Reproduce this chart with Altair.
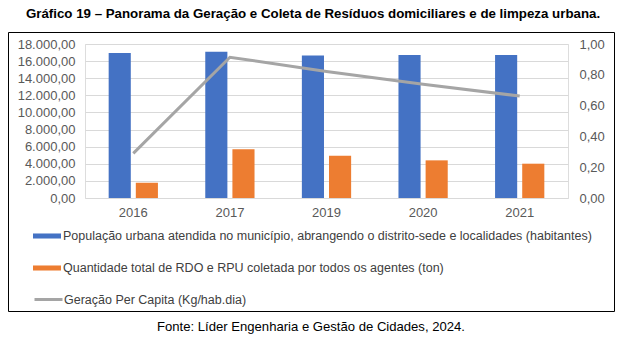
import altair as alt
import pandas as pd

years = ["2016", "2017", "2019", "2020", "2021"]
series_names = [
    "População urbana atendida no município, abrangendo o distrito-sede e localidades (habitantes)",
    "Quantidade total de RDO e RPU coletada por todos os agentes (ton)",
    "Geração Per Capita (Kg/hab.dia)",
]
populacao = [16950, 17100, 16650, 16700, 16700]
quantidade = [1790, 5690, 4950, 4400, 4010]
per_capita = [0.29, 0.914, 0.822, 0.738, 0.662]
left_ticks = [0, 2000, 4000, 6000, 8000, 10000, 12000, 14000, 16000, 18000]
right_ticks = [0, 0.2, 0.4, 0.6, 0.8, 1.0]
title_text = "Gráfico 19 – Panorama da Geração e Coleta de Resíduos domiciliares e de limpeza urbana."
source_text = "Fonte: Líder Engenharia e Gestão de Cidades, 2024."

bars_df = pd.DataFrame({
    "year": years * 2,
    "series": [series_names[0]] * len(years) + [series_names[1]] * len(years),
    "value": populacao + quantidade,
})
line_df = pd.DataFrame({"year": years, "series": [series_names[2]] * len(years), "value": per_capita})

FONT = "Liberation Sans"

x_enc = alt.X(
    "year:N", sort=years, title=None,
    scale=alt.Scale(paddingInner=0.49, paddingOuter=0.245),
    axis=alt.Axis(domain=False, ticks=False, labelAngle=0, labelPadding=8,
                  labelFont=FONT, labelFontSize=13, labelColor="#595959", grid=False),
)

bars = alt.Chart(bars_df).mark_bar().encode(
    x=x_enc,
    xOffset=alt.XOffset("series:N", sort=series_names[:2],
                        scale=alt.Scale(paddingInner=0.185, paddingOuter=0)),
    y=alt.Y("value:Q", title=None,
            scale=alt.Scale(domain=[0, 18000], nice=False),
            axis=alt.Axis(values=left_ticks, format=",.2f", domain=False, ticks=False,
                          labelPadding=10, labelFont=FONT, labelFontSize=13,
                          labelColor="#595959", grid=True, gridColor="#D9D9D9",
                          gridWidth=1, orient="left")),
    color=alt.Color("series:N", sort=series_names[:2],
                    scale=alt.Scale(domain=series_names[:2], range=["#4472C4", "#ED7D31"]),
                    legend=alt.Legend(orient="none", legendX=-52, legendY=178, title=None,
                                      direction="vertical",
                                      symbolType="M-1,-0.18H1V0.18H-1Z", symbolSize=784,
                                      symbolStrokeWidth=0, labelLimit=700, labelFont=FONT,
                                      labelFontSize=12.5, labelColor="#404040",
                                      labelOffset=2, rowPadding=11, padding=0)),
)

line = alt.Chart(line_df).mark_line(strokeWidth=3).encode(
    x=alt.X("year:N", sort=years),
    y=alt.Y("value:Q", title=None,
            scale=alt.Scale(domain=[0, 1.0], nice=False),
            axis=alt.Axis(values=right_ticks, format=".2f", domain=False, ticks=False,
                          labelPadding=11, labelFont=FONT, labelFontSize=13,
                          labelColor="#595959", grid=False, orient="right")),
    stroke=alt.Stroke("series:N",
                      scale=alt.Scale(domain=series_names[2:], range=["#A5A5A5"]),
                      legend=alt.Legend(orient="none", legendX=-52, legendY=240, title=None,
                                        symbolType="stroke", symbolSize=784,
                                        symbolStrokeWidth=3, labelLimit=700, labelFont=FONT,
                                        labelFontSize=12.5, labelColor="#404040",
                                        labelOffset=0, padding=0)),
)

frame = alt.Chart(pd.DataFrame({"k": [0]})).mark_rect(
    filled=False, stroke="#000000", strokeWidth=1
).encode(x=alt.value(-76.5), x2=alt.value(529.5), y=alt.value(-11.5), y2=alt.value(267.5))

title = alt.Chart(pd.DataFrame({"t": [title_text]})).mark_text(
    font=FONT, fontSize=13.3, fontWeight="bold", color="#000000", align="center", baseline="middle"
).encode(text="t:N", x=alt.value(228), y=alt.value(-30))

source = alt.Chart(pd.DataFrame({"t": [source_text]})).mark_text(
    font=FONT, fontSize=13.1, color="#000000", align="center", baseline="middle"
).encode(text="t:N", x=alt.value(226), y=alt.value(283))

chart = alt.layer(bars, line, frame, title, source).resolve_scale(
    y="independent", color="independent"
).properties(
    width=483, height=154,
    autosize=alt.AutoSizeParams(type="none"),
    padding={"left": 85, "top": 44, "right": 60, "bottom": 158},
).configure_view(strokeWidth=0).configure(
    background="white",
    locale=alt.Locale(number=alt.NumberLocale(decimal=",", thousands=".", grouping=[3], currency=["R$", ""])),
)

chart.save("out.html", embed_options={"renderer": "svg", "actions": False})
